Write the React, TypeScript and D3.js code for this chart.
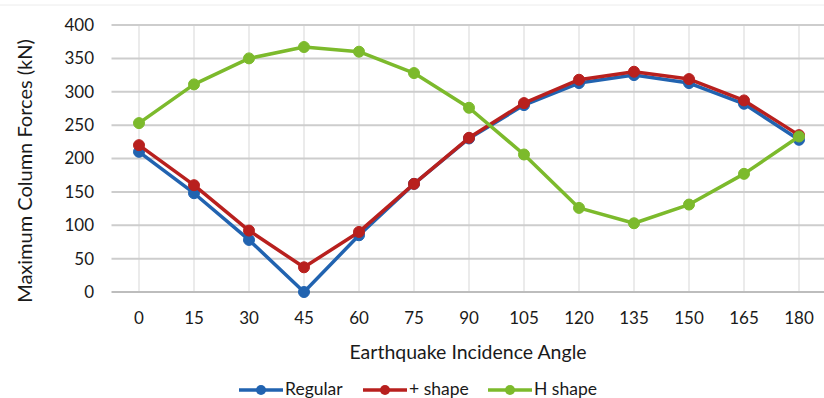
import React from "react";
import * as d3 from "d3";

const angles = ["0", "15", "30", "45", "60", "75", "90", "105", "120", "135", "150", "165", "180"];
const regular = [210, 148, 78, 0, 85, 162, 230, 280, 313, 325, 313, 282, 228];
const plusShape = [220, 160, 92, 37, 90, 162, 231, 283, 318, 330, 319, 287, 235];
const hShape = [253, 311, 350, 367, 360, 328, 276, 206, 126, 103, 131, 177, 233];
const yTicks = [0, 50, 100, 150, 200, 250, 300, 350, 400];

const seriesNames = ["Regular", "+ shape", "H shape"];
const seriesColors = ["#2163b0", "#b8201e", "#7cba2c"];

const W = 824;
const H = 398;
const FONT = "Lato, 'Open Sans', sans-serif";

export default function App() {
  const x = d3.scaleBand<string>().domain(angles).range([111.5, 826.5]);
  const y = d3.scaleLinear().domain([0, 400]).range([292, 25]);
  const cx = (a: string) => (x(a) as number) + x.bandwidth() / 2;
  const line = d3
    .line<number>()
    .x((_, i) => cx(angles[i]))
    .y((v) => y(v));
  const data = [regular, plusShape, hShape];

  const legendX = [239, 363, 488];

  return (
    <svg
      width={W}
      height={H}
      style={{ position: "absolute", left: 0, top: 0, background: "#fff" }}
      fontFamily={FONT}
    >
      <rect x={0} y={0} width={W} height={H} fill="#fff" />
      <line x1={0} x2={W} y1={5} y2={5} stroke="#ececec" strokeWidth={1} />
      {angles.map((a) => (
        <line key={"v" + a} x1={cx(a)} x2={cx(a)} y1={y(400)} y2={y(0)} stroke="#e4e4e4" strokeWidth={1.5} />
      ))}
      {yTicks.map((t) => (
        <line key={"h" + t} x1={111.5} x2={W} y1={y(t)} y2={y(t)} stroke={t === 0 ? "#bdbdbd" : "#cdcdcd"} strokeWidth={2} />
      ))}
      {yTicks.map((t) => (
        <text key={"yt" + t} x={94} y={y(t)} dy="0.35em" textAnchor="end" fontSize={17} fill="#1a1a1a">
          {t}
        </text>
      ))}
      {angles.map((a) => (
        <text key={"xt" + a} x={cx(a)} y={318} dy="0.35em" textAnchor="middle" fontSize={17} fill="#1a1a1a">
          {a}
        </text>
      ))}
      <text
        transform={`translate(25,171) rotate(-90)`}
        textAnchor="middle"
        dy="0.35em"
        fontSize={20}
        fill="#1a1a1a"
      >
        Maximum Column Forces (kN)
      </text>
      <text x={468} y={352} textAnchor="middle" dy="0.35em" fontSize={19.5} fill="#1a1a1a">
        Earthquake Incidence Angle
      </text>
      {data.map((vals, si) => (
        <g key={"s" + si}>
          <path d={line(vals) as string} fill="none" stroke={seriesColors[si]} strokeWidth={3.5} strokeLinejoin="round" />
          {vals.map((v, i) => (
            <circle key={i} cx={cx(angles[i])} cy={y(v)} r={5.5} fill={seriesColors[si]} stroke={seriesColors[si]} strokeWidth={1} />
          ))}
        </g>
      ))}
      {seriesNames.map((n, i) => (
        <g key={"lg" + i}>
          <line x1={legendX[i]} x2={legendX[i] + 44} y1={390} y2={390} stroke={seriesColors[i]} strokeWidth={3.5} />
          <circle cx={legendX[i] + 22} cy={390} r={5} fill={seriesColors[i]} />
          <text x={legendX[i] + 46} y={389} dy="0.35em" fontSize={17.5} fill="#1a1a1a">
            {n}
          </text>
        </g>
      ))}
    </svg>
  );
}
